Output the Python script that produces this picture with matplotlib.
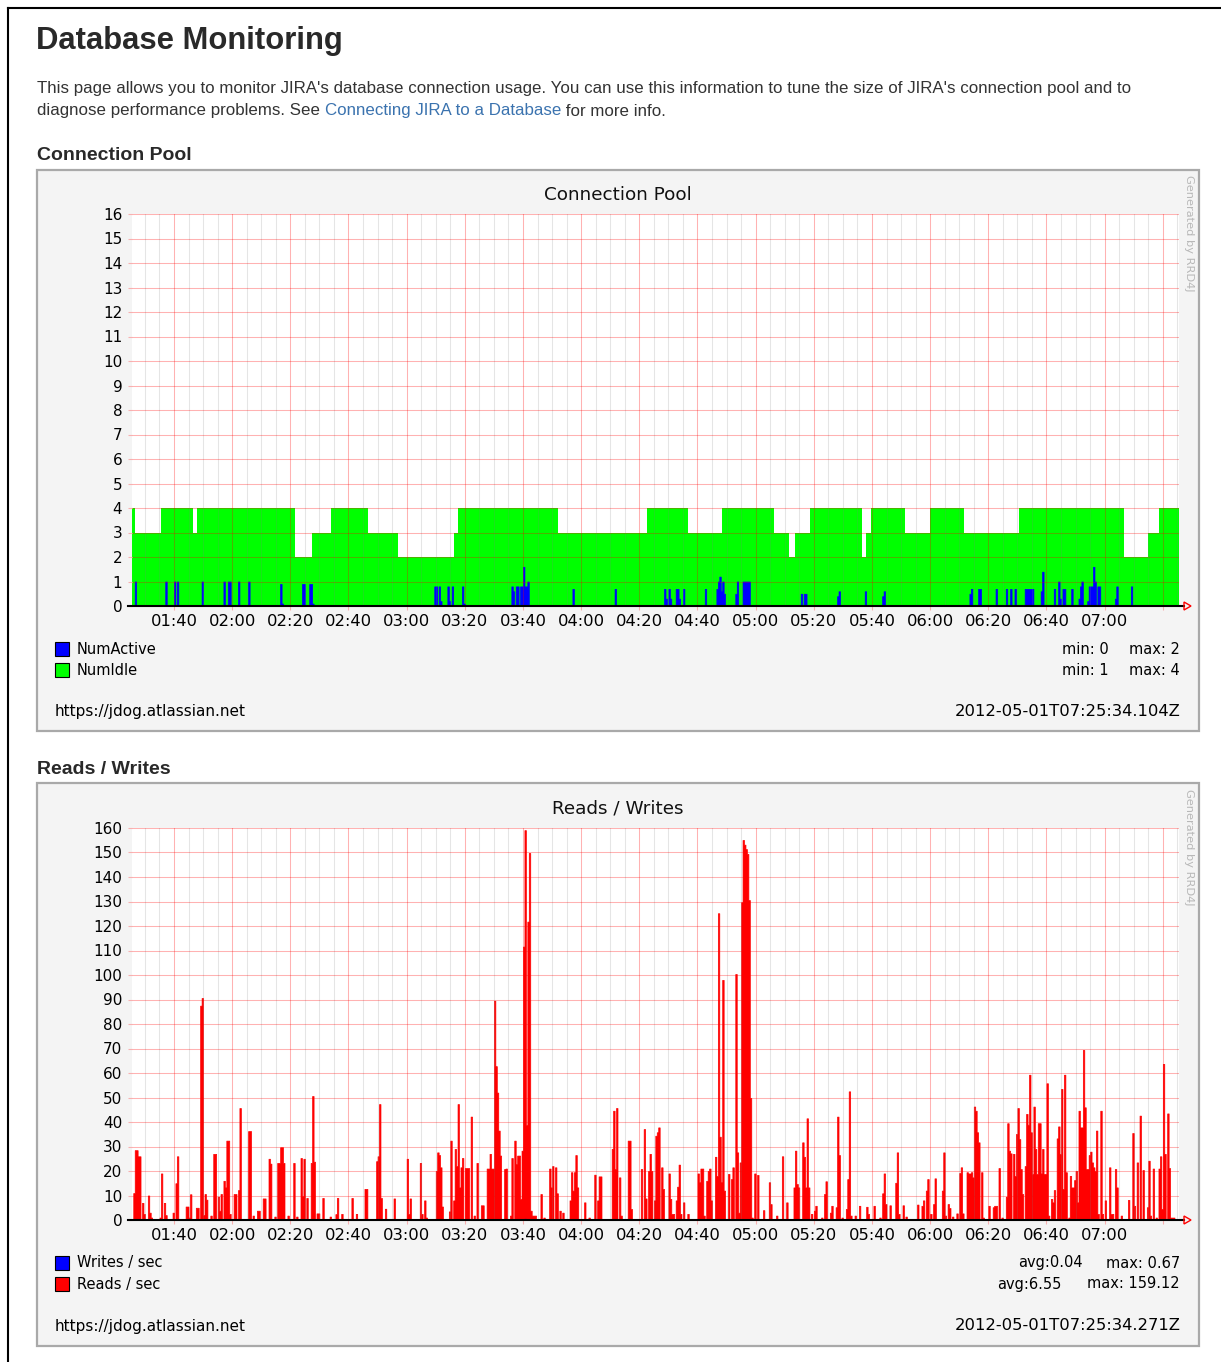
import numpy as np
import matplotlib
matplotlib.use("Agg")
import matplotlib.pyplot as plt
from matplotlib.patches import Rectangle, Polygon
from matplotlib.lines import Line2D

W, H = 1221, 1362
T0, T1 = 85 + 34 / 60, 445 + 34 / 60   # 01:25:34 .. 07:25:34, minutes of the day

# NumIdle, step changes (minute of day -> connections)
idle_t = [85.6, 86.6, 95.7, 106.4, 107.8, 141.5, 147.6, 154.0, 166.6, 177.0,
          196.3, 197.8, 232.0, 262.6, 276.7, 288.5, 306.4, 311.5, 313.5, 318.7,
          336.6, 337.8, 339.5, 351.4, 359.8, 371.6, 390.7, 426.7, 435.0, 438.8, 445.5]
idle_v = [4, 3, 4, 3, 4, 2, 3, 4, 3, 2,
          3, 4, 3, 4, 3, 4, 3, 2, 3, 4,
          2, 3, 4, 3, 4, 3, 4, 2, 3, 4, 4]

# NumActive, 30 s samples (unlisted samples are 0)
active_t = [86.5, 97.0, 100.0, 101.0, 109.5, 117.0, 118.5, 119.0, 122.0, 125.5,
            136.5, 137.0, 144.0, 144.5, 146.5, 147.0, 147.5, 189.5, 190.0, 191.0,
            191.5, 194.0, 194.5, 195.5, 199.0, 199.5, 216.0, 216.5, 217.5, 218.0,
            219.0, 219.5, 220.0, 220.5, 221.0, 221.5, 237.0, 251.5, 268.5, 269.0,
            270.0, 270.5, 272.5, 273.0, 273.5, 275.0, 282.5, 286.5, 287.0, 287.5,
            288.0, 288.5, 289.0, 293.0, 293.5, 295.5, 296.0, 296.5, 297.0, 297.5,
            315.5, 316.5, 317.0, 328.0, 328.5, 337.5, 343.5, 344.0, 373.5, 374.0,
            376.5, 377.0, 382.5, 386.0, 387.5, 389.0, 392.5, 393.0, 393.5, 394.0,
            394.5, 395.0, 398.0, 398.5, 402.5, 404.0, 404.5, 405.5, 406.0, 408.5,
            411.0, 411.5, 412.0, 414.0, 414.5, 415.0, 415.5, 416.0, 416.5, 417.5,
            418.0, 423.5, 424.0, 429.0]
active_v = [1, 1, 1, 1, 1, 1, 1, 1, 1, 1,
            0.9, 0.1, 0.9, 0.9, 0.9, 0.9, 0.1, 0.8, 0.8, 0.8,
            0.2, 0.8, 0.2, 0.8, 0.8, 0.1, 0.8, 0.6, 0.8, 0.8,
            0.8, 0.8, 1.6, 0.8, 0.8, 1.0, 0.7, 0.7, 0.7, 0.3,
            0.7, 0.3, 0.7, 0.7, 0.3, 0.7, 0.7, 0.7, 1.0, 1.2,
            0.6, 1.0, 0.5, 0.5, 1.0, 1.0, 1.0, 1.0, 1.0, 1.0,
            0.5, 0.5, 0.5, 0.4, 0.6, 0.6, 0.4, 0.6, 0.5, 0.7,
            0.7, 0.7, 0.7, 0.7, 0.7, 0.7, 0.7, 0.7, 0.7, 0.7,
            0.7, 0.7, 0.6, 1.4, 0.7, 1.0, 0.3, 0.7, 0.7, 0.7,
            0.3, 0.8, 1.0, 0.2, 0.8, 0.8, 0.8, 1.6, 1.0, 0.8,
            0.8, 0.3, 0.8, 0.8]

# Reads / sec, 30 s samples (unlisted samples are 0)
reads_t = [86.0, 86.5, 87.0, 87.5, 88.0, 89.0, 89.5, 91.0, 91.5, 92.0,
           95.0, 95.5, 96.5, 97.0, 99.5, 100.5, 101.0, 104.0, 104.5, 105.0,
           105.5, 107.5, 108.0, 109.0, 109.5, 110.0, 110.5, 111.0, 112.5, 113.5,
           114.0, 115.0, 115.5, 116.0, 117.0, 117.5, 118.0, 118.5, 119.0, 120.5,
           121.0, 122.0, 122.5, 125.5, 126.0, 127.0, 128.5, 129.0, 130.5, 131.0,
           132.5, 133.0, 134.5, 135.5, 136.0, 136.5, 137.0, 137.5, 139.0, 141.0,
           142.0, 143.5, 144.0, 144.5, 145.5, 147.0, 147.5, 148.0, 149.0, 149.5,
           151.0, 153.5, 155.5, 156.0, 157.5, 161.0, 162.5, 165.5, 166.0, 169.5,
           170.0, 170.5, 171.0, 172.5, 175.5,
           180.0, 180.5, 181.0, 184.5, 185.0, 186.0, 186.5, 190.0, 190.5, 191.0,
           191.5, 192.0, 194.5, 195.0, 196.0, 196.5, 197.0, 197.5, 198.0, 198.5,
           199.0, 200.0, 200.5, 201.0, 202.0, 203.0, 204.0, 205.5, 206.0, 207.5,
           208.0, 208.5, 209.0, 209.5, 210.0, 210.5, 211.0, 211.5, 212.0, 213.5,
           214.0, 215.5, 216.0, 217.0, 217.5, 218.0, 218.5, 219.0, 219.5, 220.0,
           220.5, 221.0, 221.5, 222.0, 222.5, 223.0, 223.5, 224.0, 226.0, 227.0,
           229.0, 229.5, 230.0, 231.0, 231.5, 232.5, 233.5, 236.0, 236.5, 237.0,
           237.5, 238.0, 238.5, 241.0, 242.5, 244.5, 245.5, 246.0, 246.5, 250.5,
           251.0, 251.5, 252.0, 253.0, 253.5, 256.0, 256.5, 257.0, 260.5, 261.5,
           262.0, 263.0, 263.5, 264.0,
           265.0, 265.5, 266.0, 266.5, 267.5, 268.0, 270.0, 270.5, 271.0, 271.5,
           272.5, 273.0, 273.5, 274.0, 275.0, 276.5, 280.0, 280.5, 281.0, 281.5,
           282.0, 283.0, 283.5, 284.0, 284.5, 286.0, 286.5, 287.0, 287.5, 288.0,
           288.5, 289.0, 290.5, 291.5, 292.0, 293.0, 293.5, 294.0, 294.5, 295.0,
           295.5, 296.0, 296.5, 297.0, 297.5, 298.0, 298.5, 299.5, 300.5, 302.5,
           304.5, 305.0, 307.0, 309.0, 310.5, 313.0, 313.5, 314.0, 314.5, 316.0,
           316.5, 317.0, 317.5, 318.0, 319.0, 320.0, 320.5, 322.5, 323.5, 324.0,
           325.5, 326.0, 327.5, 328.0, 328.5, 329.5, 331.0, 331.5, 332.0, 332.5,
           334.0, 335.5, 338.0, 338.5, 340.5, 342.5, 343.5, 344.0, 344.5, 346.0,
           348.0, 348.5, 349.0, 350.5, 351.5,
           355.5, 357.0, 357.5, 358.5, 359.0, 360.0, 361.0, 361.5, 364.0, 364.5,
           365.0, 366.0, 366.5, 367.5, 369.0, 370.0, 370.5, 371.0, 372.5, 373.0,
           373.5, 374.0, 374.5, 375.0, 375.5, 376.0, 376.5, 377.5, 378.0, 380.0,
           381.5, 382.0, 382.5, 383.5, 384.5, 386.0, 386.5, 387.0, 387.5, 388.5,
           389.0, 389.5, 390.0, 390.5, 391.0, 391.5, 392.5, 393.0, 393.5, 394.0,
           394.5, 395.0, 395.5, 396.0, 396.5, 397.0, 397.5, 398.0, 398.5, 399.0,
           399.5, 400.0, 400.5, 401.5, 402.0, 402.5, 403.5, 404.0, 404.5, 405.0,
           405.5, 406.0, 406.5, 407.5, 408.0, 408.5, 409.0, 409.5, 410.0, 410.5,
           411.0, 411.5, 412.0, 412.5, 413.0, 413.5, 414.0, 414.5, 415.0, 415.5,
           416.0, 416.5, 417.0, 417.5, 418.5, 419.0, 420.0, 421.5, 422.0, 422.5,
           423.5, 424.0, 425.5, 428.0, 429.5, 430.0, 431.0, 432.0, 433.0, 434.5,
           435.0, 435.5, 436.5, 437.5, 438.5, 439.0, 439.5, 440.0, 440.5, 441.5,
           442.0, 442.5, 443.0, 443.5]
reads_v = [11, 28.5, 28.5, 26, 26, 7, 2.5, 10, 3, 1,
           1, 19, 7, 2, 3, 15, 26, 5.5, 5.5, 1,
           10.5, 5, 5, 87.5, 90.6, 2, 10.6, 8.3, 1.8, 27,
           27, 9.5, 3.8, 10.6, 16, 13.3, 32.4, 32.4, 2.5, 10.6,
           10.6, 12.2, 45.7, 36.3, 36.3, 1.8, 3.8, 3.8, 8.8, 8.8,
           25, 23, 1.4, 23.3, 23.3, 29.7, 29.7, 23.3, 1.8, 23.3,
           1.4, 25.3, 9.7, 25, 9, 23.3, 50.6, 23.8, 2.7, 2.7,
           9, 1.4, 2.4, 9, 2.5, 9, 2.5, 12.7, 12.7, 24,
           26, 47.3, 9, 4.6, 8.8,
           25, 2.5, 8.8, 23.3, 2.5, 8, 1, 20, 27.6, 26.5,
           21.5, 5.5, 3.5, 32.4, 8, 29, 22, 47.3, 13.3, 21.5,
           25.3, 21.2, 21.2, 21.2, 42.2, 1.8, 23.3, 6, 6, 21,
           21, 27, 21, 21, 89.5, 62.8, 52, 36.5, 26.3, 20.8,
           21, 1.8, 25.3, 32.4, 22.9, 26.3, 26.3, 8.6, 28.3, 111.6,
           159.12, 38.8, 121.8, 149.8, 3.8, 1.8, 1.8, 1.8, 10.6, 1,
           21, 13.3, 22, 21.5, 10.9, 3.8, 3, 8, 19.5, 12,
           19.5, 26.5, 13.3, 7.2, 1, 18.5, 8, 17.8, 17.8, 29,
           44.6, 20.8, 45.7, 17.4, 1.8, 32.4, 32.4, 4.5, 20.8, 37.1,
           8.8, 20, 27, 20,
           8, 34.4, 35.8, 37.8, 21.5, 12.7, 19, 8.6, 2.5, 2.5,
           8, 13.6, 22.6, 2.5, 7.2, 2.5, 19, 15.4, 21, 21,
           1.8, 16, 20, 21, 8, 25.8, 18, 125.2, 34, 15.4,
           98, 12, 18.8, 16.7, 21.5, 100.4, 27.6, 3, 23.5, 129.7,
           155.1, 153.2, 151.4, 149.4, 130.6, 49.8, 1, 19, 18.4, 4,
           15.4, 6.5, 1.8, 26, 7.2, 13.3, 28.3, 14.7, 13.3, 31.7,
           25.8, 13.3, 41.5, 13.3, 2.5, 3.8, 5.8, 1, 10.6, 15.8,
           3, 5.8, 5.2, 42.2, 26.5, 1, 4.5, 16.7, 52.5, 1.8,
           1.8, 5.8, 5.4, 2.5, 5.8, 1, 10.9, 19, 6.5, 6,
           15.2, 27.6, 2.5, 6, 1.4,
           6.3, 5.8, 8, 12, 16.7, 2.5, 6.5, 17, 12, 27.6,
           1.8, 6.5, 4.9, 1.4, 2.7, 19.2, 21.5, 2.7, 19.5, 19,
           19, 19.5, 17.4, 46.3, 44.6, 35.8, 31.7, 19.5, 1, 5.8,
           5.2, 5.8, 5.8, 21.2, 1, 9.5, 39.5, 28.3, 27.2, 27,
           18, 35.1, 45.7, 33, 20.8, 10.6, 22, 43.3, 38.9, 59.3,
           35.8, 18.8, 46.3, 29, 18.8, 39.5, 39.5, 19, 29, 18.8,
           18.8, 55.8, 1.8, 8.6, 7.2, 12.2, 33.3, 38.2, 27, 53.5,
           12.7, 59.3, 19.5, 1, 18, 13.3, 13.3, 16.3, 20, 7.2,
           44.6, 37.8, 37.8, 69.4, 46, 20.8, 20.8, 26.5, 27.9, 23.5,
           21.5, 20, 36.5, 2.5, 44.6, 2.5, 8, 21.5, 2.5, 2.5,
           20.8, 13.3, 1.8, 8.2, 35.5, 5.8, 23.5, 42.6, 20.4, 5.2,
           24.2, 1.8, 21, 1, 21, 26, 4.5, 63.7, 27, 43.5,
           21.2, 1, 1, 1]

# Writes / sec, 30 s samples
writes_t = [220.5, 295.0, 295.5, 296.0, 296.5, 297.0, 297.5, 364.0, 389.5, 406.0, 440.0]
writes_v = [0.67, 0.4, 0.4, 0.4, 0.4, 0.4, 0.4, 0.3, 0.3, 0.3, 0.3]


def fx(x):
    return x / W


def fy(y):
    return 1 - y / H


def sampled(ts, vs):
    grid = np.arange(85.5, 446.0, 0.5)
    vals = np.zeros(len(grid))
    idx = np.round((np.array(ts) - 85.5) / 0.5).astype(int)
    vals[idx] = vs
    return grid, vals


def hhmm(m):
    return f"{int(m) // 60:02d}:{int(m) % 60:02d}"


CHART_FONT = "DejaVu Sans"

fig = plt.figure(figsize=(W / 100, H / 100), dpi=100)
fig.patch.set_facecolor("white")


def style_axes(ax, ymax, ystep):
    ax.set_xlim(T0, T1)
    ax.set_ylim(0, ymax)
    for s in ax.spines.values():
        s.set_visible(False)
    major = np.arange(100, 441, 20)
    ax.set_xticks(major)
    ax.set_xticklabels([hhmm(m) if m <= 420 else "" for m in major])
    ax.set_xticks(np.arange(90, 446, 5), minor=True)
    ax.set_yticks(np.arange(0, ymax + 1, ystep))
    # grid goes over the areas, semi-transparent
    ax.grid(which="major", color="red", alpha=0.3, lw=0.75)
    ax.grid(which="minor", axis="x", color="#808080", alpha=0.2, lw=0.75)
    ax.set_axisbelow(False)
    ax.tick_params(axis="x", which="major", length=3, color="#f7b0b0", pad=2.5,
                   labelsize=11.8)
    ax.tick_params(axis="x", which="minor", length=0)
    ax.tick_params(axis="y", length=3, color="#f7b0b0", pad=4, labelsize=11)
    for lab in ax.get_xticklabels() + ax.get_yticklabels():
        lab.set_family(CHART_FONT)


def chart_frame(top, bottom, title, title_y, gen_y):
    fig.patches.append(Rectangle((fx(37), fy(bottom)), (1199 - 37) / W, (bottom - top) / H,
                                 transform=fig.transFigure, facecolor="#f4f4f4",
                                 edgecolor="#a9a9a9", lw=1.6, zorder=-1))
    fig.text(fx(618), fy(title_y), title, ha="center", va="center", fontsize=13.2,
             family=CHART_FONT, color="#111111")
    fig.text(fx(1189), fy(gen_y), "Generated by RRD4J", rotation=270, ha="center",
             va="top", fontsize=8.2, family=CHART_FONT, color="#b8b8b8")


def x_axis_line(y):
    fig.lines.append(Line2D([fx(128), fx(1184)], [fy(y), fy(y)], transform=fig.transFigure,
                            color="black", lw=1.5, zorder=5))
    fig.patches.append(Polygon([(fx(1184), fy(y - 4)), (fx(1191), fy(y)), (fx(1184), fy(y + 4))],
                               closed=True, transform=fig.transFigure, facecolor="none",
                               edgecolor="red", lw=1, zorder=5))


def legend_row(y, color, label):
    fig.patches.append(Rectangle((fx(55), fy(y + 7)), 14 / W, 14 / H, transform=fig.transFigure,
                                 facecolor=color, edgecolor="black", lw=0.8, zorder=4))
    fig.text(fx(77), fy(y), label, va="center", fontsize=10.5, family=CHART_FONT)


def right_text(x, y, s, size=10.5):
    fig.text(fx(x), fy(y), s, ha="right", va="center", fontsize=size, family=CHART_FONT)


# page outline
fig.lines.append(Line2D([fx(8), fx(8)], [fy(8), fy(1362)], transform=fig.transFigure,
                        color="black", lw=1.5))
fig.lines.append(Line2D([fx(8), fx(1221)], [fy(8), fy(8)], transform=fig.transFigure,
                        color="black", lw=1.5))

# page header
fig.text(fx(36), fy(41), "Database Monitoring", fontsize=22.3, fontweight="bold",
         family="Liberation Sans", va="center", color="#292929")
renderer = fig.canvas.get_renderer()


def text_run(x, y, parts, **kw):
    for s, col in parts:
        t = fig.text(fx(x), fy(y), s, color=col, va="center", **kw)
        x = t.get_window_extent(renderer).x1


para = dict(fontsize=12.2, family="Liberation Sans")
text_run(37, 89, [("This page allows you to monitor JIRA's database connection usage. "
                   "You can use this information to tune the size of JIRA's connection pool and to",
                   "#333333")], **para)
text_run(37, 111, [("diagnose performance problems. See ", "#333333"),
                   ("Connecting JIRA to a Database", "#3b73af"),
                   (" for more info.", "#333333")], **para)

fig.text(fx(37), fy(155), "Connection Pool", fontsize=14, fontweight="bold",
         family="Liberation Sans", va="center", color="#292929")
fig.text(fx(37), fy(770), "Reads / Writes", fontsize=14, fontweight="bold",
         family="Liberation Sans", va="center", color="#292929")

# ---- Connection Pool chart ----
chart_frame(170, 731, "Connection Pool", 195, 175)
ax1 = fig.add_axes([fx(132), fy(606), (1179 - 132) / W, (606 - 214) / H])
ax1.fill_between(idle_t, idle_v, step="post", color="#00ff00", lw=0)
at, av = sampled(active_t, active_v)
ax1.fill_between(at, av, step="post", facecolor="#0000ff", edgecolor="#0000ff", lw=0.5)
style_axes(ax1, 16, 1)
x_axis_line(606)

legend_row(649, "#0000ff", "NumActive")
legend_row(670, "#00ff00", "NumIdle")
right_text(1109, 649, "min: 0")
right_text(1180, 649, "max: 2")
right_text(1109, 670, "min: 1")
right_text(1180, 670, "max: 4")
fig.text(fx(55), fy(712), "https://jdog.atlassian.net", va="center", fontsize=11,
         family=CHART_FONT)
right_text(1181, 712, "2012-05-01T07:25:34.104Z", size=11.8)

# ---- Reads / Writes chart ----
chart_frame(783, 1346, "Reads / Writes", 809, 789)
ax2 = fig.add_axes([fx(132), fy(1220), (1179 - 132) / W, (1220 - 828) / H])
rt, rv = sampled(reads_t, reads_v)
ax2.fill_between(rt, rv, step="post", facecolor="#ff0000", edgecolor="#ff0000", lw=0.5)
wt, wv = sampled(writes_t, writes_v)
ax2.fill_between(wt, wv, step="post", color="#0000ff", lw=0)
style_axes(ax2, 160, 10)
x_axis_line(1220)

legend_row(1263, "#0000ff", "Writes / sec")
legend_row(1284, "#ff0000", "Reads / sec")
right_text(1083, 1263, "avg:0.04")
right_text(1180, 1263, "max: 0.67")
right_text(1061, 1284, "avg:6.55")
right_text(1180, 1284, "max: 159.12")
fig.text(fx(55), fy(1326), "https://jdog.atlassian.net", va="center", fontsize=11,
         family=CHART_FONT)
right_text(1181, 1326, "2012-05-01T07:25:34.271Z", size=11.8)

fig.savefig("out.png", dpi=100, facecolor="white")
